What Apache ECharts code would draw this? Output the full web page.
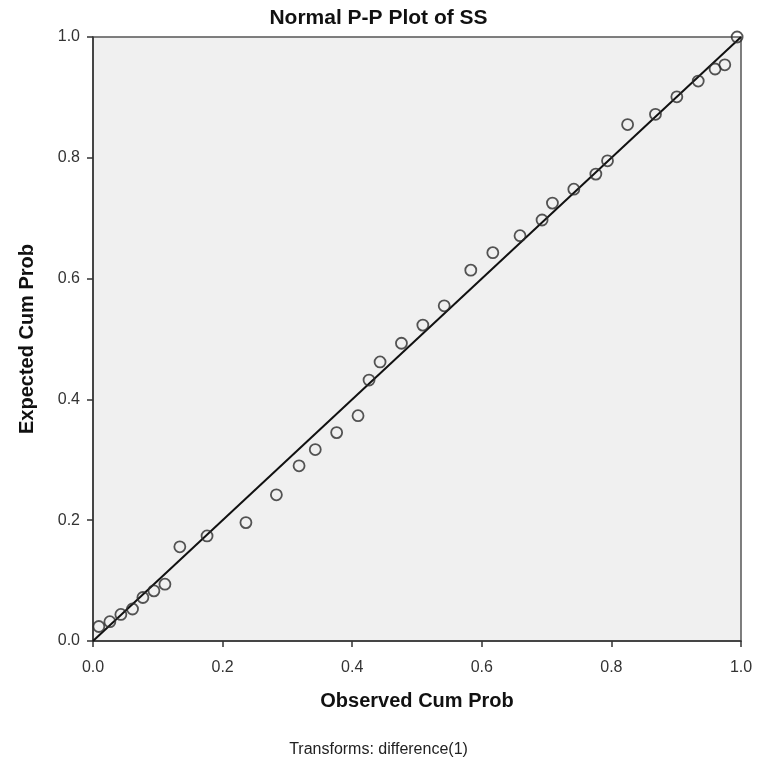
<!DOCTYPE html>
<html><head><meta charset="utf-8">
<script src="https://cdn.jsdelivr.net/npm/echarts@6/dist/echarts.min.js"></script>
<style>html,body{margin:0;padding:0;background:#fff}#c{width:757px;height:769px}</style>
</head><body><div id="c"></div>
<script>
const observed = [0.009,0.026,0.043,0.061,0.077,0.094,0.111,0.134,0.176,0.236,0.283,0.318,0.343,0.376,0.409,0.426,0.443,0.476,0.509,0.542,0.583,0.617,0.659,0.693,0.709,0.742,0.776,0.794,0.825,0.868,0.901,0.934,0.960,0.975,0.994];
const expected = [0.024,0.032,0.044,0.053,0.072,0.083,0.094,0.156,0.174,0.196,0.242,0.290,0.317,0.345,0.373,0.432,0.462,0.493,0.523,0.555,0.614,0.643,0.671,0.697,0.725,0.748,0.773,0.795,0.855,0.872,0.901,0.927,0.947,0.954,1.0];
const refLine = [[0,0],[1,1]];
const ticks = [0,0.2,0.4,0.6,0.8,1.0];

const chart = echarts.init(document.getElementById('c'));
const font = 'Liberation Sans, Arial, sans-serif';
chart.setOption({
  animation:false,
  title:[{text:'Normal P-P Plot of SS',left:'center',top:3,textStyle:{fontFamily:font,fontSize:21,fontWeight:'bold',color:'#111'}},
         {text:'Transforms: difference(1)',left:'center',top:737,textStyle:{fontFamily:font,fontSize:16,fontWeight:'normal',color:'#222'}}],
  grid:{left:93,right:16,top:37,bottom:128,show:true,backgroundColor:'#f0f0f0',borderColor:'#555',borderWidth:1.5},
  xAxis:{type:'value',min:0,max:1,interval:0.2,
    name:'Observed Cum Prob',nameLocation:'middle',nameGap:50,
    nameTextStyle:{fontFamily:font,fontSize:20,fontWeight:'bold',color:'#111'},
    axisLine:{show:true,lineStyle:{color:'#333',width:1.5}},
    axisTick:{show:true,length:6,lineStyle:{color:'#333',width:1.5}},
    splitLine:{show:false},
    axisLabel:{fontFamily:font,fontSize:16,color:'#333',margin:19,formatter:v=>v.toFixed(1)}},
  yAxis:{type:'value',min:0,max:1,interval:0.2,
    name:'Expected Cum Prob',nameLocation:'middle',nameGap:56,
    nameTextStyle:{fontFamily:font,fontSize:20,fontWeight:'bold',color:'#111'},
    axisLine:{show:true,lineStyle:{color:'#333',width:1.5}},
    axisTick:{show:true,length:6,lineStyle:{color:'#333',width:1.5}},
    splitLine:{show:false},
    axisLabel:{fontFamily:font,fontSize:16,color:'#333',margin:13,formatter:v=>v.toFixed(1)}},
  series:[
    {type:'line',data:refLine,symbol:'none',lineStyle:{color:'#111',width:2},z:3},
    {type:'scatter',data:observed.map((x,i)=>[x,expected[i]]),symbol:'circle',symbolSize:11,
     itemStyle:{color:'rgba(0,0,0,0)',borderColor:'#2a2a2a',borderWidth:1.8},z:4}
  ]
});
</script></body></html>
